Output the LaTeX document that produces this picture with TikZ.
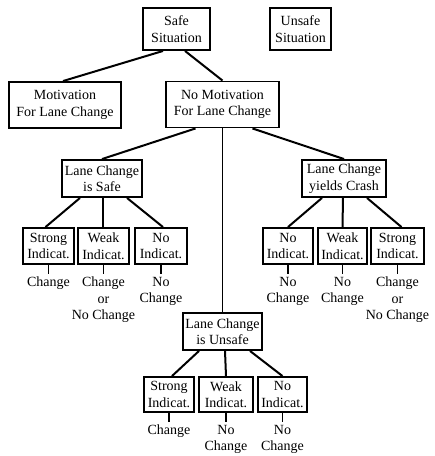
\documentclass[tikz,border=0pt]{standalone}
\usepackage{fontspec}
\setmainfont{Liberation Serif}
\usetikzlibrary{positioning}
\begin{document}
\begin{tikzpicture}[x=1pt,y=-1pt,
  every node/.style={font=\fontsize{14pt}{16.5pt}\selectfont},
  bx/.style 2 args={draw, line width=1.9pt, align=center, inner sep=0pt,
    minimum width=#1, minimum height=#2},
  ind/.style={bx={51pt}{36pt}},
  lbl/.style={align=center, inner sep=0pt},
  link/.style={line width=2pt},
  tick/.style={line width=1.8pt, shorten >=3pt}
]
\useasboundingbox (0,0) rectangle (435,456);

% situations
\node[bx={67pt}{42pt}] (safe) at (176.5,29) {Safe\\Situation};
\node[bx={61pt}{42pt}] (unsafe) at (300.5,29) {Unsafe\\Situation};

% motivation
\node[bx={112pt}{46pt}] (mot) at (65,105) {Motivation\\For Lane Change};
\node[bx={113pt}{46pt}] (nomot) at (222.5,104.5) {No Motivation\\For Lane Change};

% lane change outcomes
\node[bx={80pt}{37pt}] (lcs) at (102,178.5) {Lane Change\\is Safe};
\node[bx={84pt}{37pt}] (lcc) at (344,178.5) {Lane Change\\yields Crash};
\node[bx={79pt}{37pt}] (lcu) at (222.5,331.5) {Lane Change\\is Unsafe};

% indications under "is Safe"
\node[ind] (s1) at (48.5,246) {Strong\\Indicat.};
\node[ind] (w1) at (103.5,246) {Weak\\Indicat.};
\node[ind, minimum width=52pt] (n1) at (161,246) {No\\Indicat.};

% indications under "yields Crash"
\node[ind, minimum width=50pt] (n2) at (288,246) {No\\Indicat.};
\node[ind, minimum width=49pt] (w2) at (342.5,246) {Weak\\Indicat.};
\node[ind, minimum width=53pt] (s2) at (397.5,246) {Strong\\Indicat.};

% indications under "is Unsafe"
\node[ind, minimum width=50pt, minimum height=35pt] (s3) at (169,394.5) {Strong\\Indicat.};
\node[ind, minimum width=54pt, minimum height=35pt] (w3) at (226,394.5) {Weak\\Indicat.};
\node[ind, minimum width=49pt, minimum height=35pt] (n3) at (282.5,394.5) {No\\Indicat.};

% resulting decisions
\node[lbl, below=12pt of s1] (ls1) {Change};
\node[lbl, below=12pt of w1] (lw1) {Change\\or\\No Change};
\node[lbl, below=12pt of n1] (ln1) {No\\Change};
\node[lbl, below=12pt of n2] (ln2) {No\\Change};
\node[lbl, below=12pt of w2] (lw2) {No\\Change};
\node[lbl, below=12pt of s2] (ls2) {Change\\or\\No Change};
\node[lbl, below=12pt of s3] (ls3) {Change};
\node[lbl, below=12pt of w3] (lw3) {No\\Change};
\node[lbl, below=12pt of n3] (ln3) {No\\Change};

% tree connectors
\draw[link] ([xshift=-13.5pt]safe.south) -- ([xshift=-2pt]mot.north);
\draw[link] ([xshift=8.5pt]safe.south) -- (nomot.north);
\draw[link] ([xshift=-27pt]nomot.south) -- (lcs.north);
\draw[link] ([xshift=30pt]nomot.south) -- (lcc.north);
\draw[link, line width=1.2pt] (nomot.south) -- (lcu.north);

\draw[link] ([xshift=-22pt]lcs.south) -- ([xshift=-3pt]s1.north);
\draw[link] ([xshift=1pt]lcs.south) -- ([xshift=-0.5pt]w1.north);
\draw[link] ([xshift=25pt]lcs.south) -- ([xshift=2pt]n1.north);

\draw[link] ([xshift=-22pt]lcc.south) -- (n2.north);
\draw[link] ([xshift=-1pt]lcc.south) -- (w2.north);
\draw[link] ([xshift=23pt]lcc.south) -- ([xshift=4pt]s2.north);

\draw[link] ([xshift=-23.5pt]lcu.south) -- ([xshift=3pt]s3.north);
\draw[link] ([xshift=2.5pt]lcu.south) -- (w3.north);
\draw[link] ([xshift=27.5pt]lcu.south) -- (n3.north);

% short ticks to the decisions
\foreach \b/\l in {s1/ls1, w1/lw1, n1/ln1, n2/ln2, w2/lw2, s2/ls2, s3/ls3, w3/lw3, n3/ln3}
  \draw[tick] (\b.south) -- (\l.north);
\end{tikzpicture}
\end{document}
